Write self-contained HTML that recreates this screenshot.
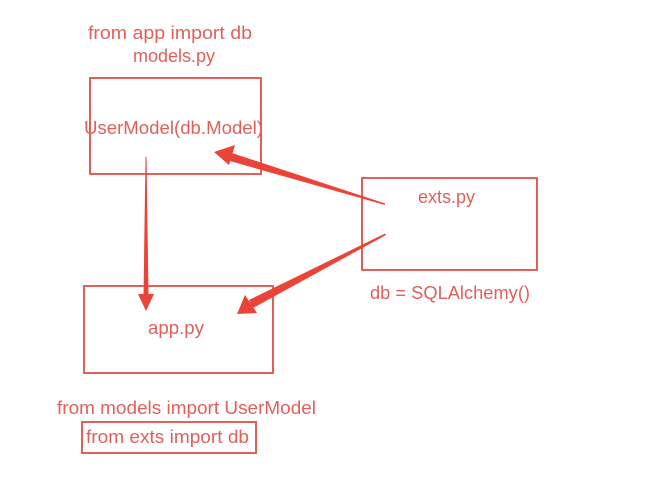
<!DOCTYPE html>
<html><head><meta charset="utf-8"><style>
html,body{margin:0;padding:0;background:#fff;}
svg{display:block;}
text{font-family:"Liberation Sans",sans-serif;font-size:18px;fill:#e0605a;}
</style></head><body>
<svg width="672" height="498" viewBox="0 0 672 498" xmlns="http://www.w3.org/2000/svg">
<rect width="672" height="498" fill="#fff"/>
<g fill="none" stroke="#e0605a" stroke-width="2">
<rect x="90" y="78" width="171" height="96"/>
<rect x="362" y="178" width="175" height="92"/>
<rect x="84" y="286" width="189" height="87"/>
<rect x="82" y="422" width="174" height="31"/>
</g>
<text x="88" y="39" textLength="164" lengthAdjust="spacingAndGlyphs">from app import db</text>
<text x="133" y="62" textLength="82" lengthAdjust="spacingAndGlyphs">models.py</text>
<text x="84" y="134" textLength="179" lengthAdjust="spacingAndGlyphs">UserModel(db.Model)</text>
<text x="418" y="203" textLength="57" lengthAdjust="spacingAndGlyphs">exts.py</text>
<text x="370" y="299" textLength="160" lengthAdjust="spacingAndGlyphs">db = SQLAlchemy()</text>
<text x="148" y="334" textLength="56" lengthAdjust="spacingAndGlyphs">app.py</text>
<text x="57" y="414" textLength="259" lengthAdjust="spacingAndGlyphs">from models import UserModel</text>
<text x="86" y="443" textLength="163" lengthAdjust="spacingAndGlyphs">from exts import db</text>
<g fill="#ea4338">
<polygon points="145.5,157 146.5,157 148.5,296 143.5,296"/>
<polygon points="138,294 154,294 146,311"/>
<polygon points="385,203.5 385,205 230,161 232,153"/>
<polygon points="214,152 235,145 229,165"/>
<polygon points="385,233.5 386,235 253,308 249,300"/>
<polygon points="237,314 245,295 257,313"/>
</g>
</svg>
</body></html>
